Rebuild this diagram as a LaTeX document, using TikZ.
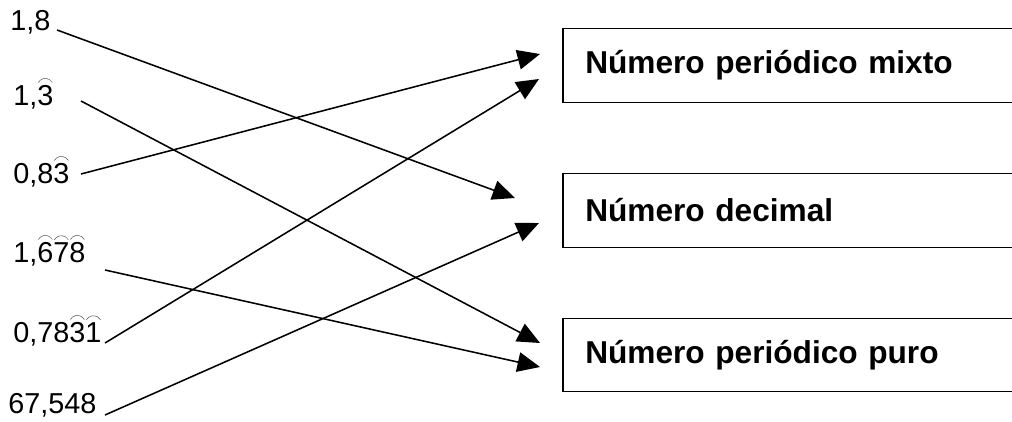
\documentclass[tikz,border=0pt]{standalone}
\usepackage{fontspec}
\setmainfont{Liberation Sans}
\usetikzlibrary{arrows.meta}

% small arc over a repeating digit
\newcommand{\per}[1]{\setbox0\hbox{#1}\rlap{\raisebox{\dimexpr\ht0+1.5pt\relax}{\hbox to \wd0{\hss\tikz\draw[line width=.35pt,black!70] (0pt,0pt) arc[start angle=150,end angle=30,radius=5.8pt];\hss}}}#1}

\begin{document}
\begin{tikzpicture}[x=0.025cm,y=-0.025cm,
  lbl/.style={anchor=base west,inner sep=0pt,font=\fontsize{20.5}{24}\selectfont},
  tipo/.style={anchor=west,inner xsep=0.55cm,inner ysep=0pt,
    text width=14cm,align=left,minimum height=1.825cm,font=\bfseries\fontsize{22.5}{26}\selectfont},
  caja/.style={line width=.9pt},
  arr/.style={line width=1.1pt,-{Triangle[length=16pt,width=14pt]}}]
\useasboundingbox (0,0) rectangle (1012,421);
% numbers
\node[lbl] (l18) at (10,30) {1,8};
\node[lbl] (l13) at (13,105) {1,\per{3}};
\node[lbl] (l083) at (13,183) {0,8\per{3}};
\node[lbl] (l1678) at (13,262) {1,\per{6}\per{7}\per{8}};
\node[lbl] (l07831) at (13,342) {0,78\per{3}\per{1}};
\node[lbl] (l67548) at (8,413) {67,548};
% types (boxes run off the right edge)
\node[tipo] (bmixto) at (563,65.5) {Número periódico mixto};
\node[tipo] (bdec) at (563,210.5) {Número decimal};
\node[tipo] (bpuro) at (563,355) {Número periódico puro};
\draw[caja] (bmixto.north east) -- (bmixto.north west) -- (bmixto.south west) -- (bmixto.south east);
\draw[caja] (bdec.north east) -- (bdec.north west) -- (bdec.south west) -- (bdec.south east);
\draw[caja] (bpuro.north east) -- (bpuro.north west) -- (bpuro.south west) -- (bpuro.south east);
% line ends
\coordinate (s18) at (57,30);    \coordinate (e18) at (515,198);
\coordinate (s13) at (81,101);   \coordinate (e13) at (540,343);
\coordinate (s083) at (81,174);  \coordinate (e083) at (540,54);
\coordinate (s1678) at (105,270); \coordinate (e1678) at (540,367);
\coordinate (s07831) at (105,343); \coordinate (e07831) at (539,79);
\coordinate (s67548) at (105,415); \coordinate (e67548) at (539,223);
\draw[arr] (s18) -- (e18);
\draw[arr] (s13) -- (e13);
\draw[arr] (s083) -- (e083);
\draw[arr] (s1678) -- (e1678);
\draw[arr] (s07831) -- (e07831);
\draw[arr] (s67548) -- (e67548);
\end{tikzpicture}
\end{document}
